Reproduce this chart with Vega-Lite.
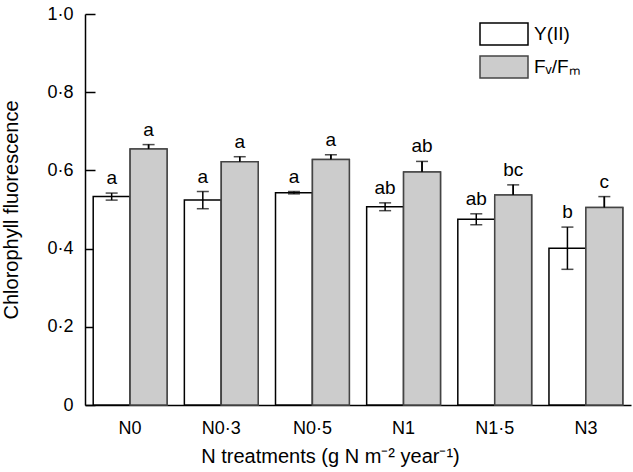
{
  "$schema": "https://vega.github.io/schema/vega-lite/v6.json",
  "width": 546,
  "height": 391,
  "autosize": {"type": "none"},
  "padding": {"left": 85, "top": 14, "right": 2, "bottom": 67},
  "background": "white",
  "config": {
    "view": {"stroke": null},
    "font": "Liberation Sans",
    "axis": {"labelFont": "Liberation Sans", "titleFont": "Liberation Sans", "labelColor": "black", "titleColor": "black", "domainColor": "black", "tickColor": "black", "grid": false, "titleFontWeight": "normal"}
  },
  "data": {
    "values": [
      {"treatment": "N0", "measure": "Y(II)", "mean": 0.533, "lo": 0.524, "hi": 0.542, "letter": "a"},
      {"treatment": "N0", "measure": "Fᵥ/Fₘ", "mean": 0.655, "lo": 0.644, "hi": 0.666, "letter": "a"},
      {"treatment": "N0·3", "measure": "Y(II)", "mean": 0.524, "lo": 0.502, "hi": 0.546, "letter": "a"},
      {"treatment": "N0·3", "measure": "Fᵥ/Fₘ", "mean": 0.622, "lo": 0.609, "hi": 0.635, "letter": "a"},
      {"treatment": "N0·5", "measure": "Y(II)", "mean": 0.543, "lo": 0.540, "hi": 0.546, "letter": "a"},
      {"treatment": "N0·5", "measure": "Fᵥ/Fₘ", "mean": 0.628, "lo": 0.616, "hi": 0.640, "letter": "a"},
      {"treatment": "N1", "measure": "Y(II)", "mean": 0.507, "lo": 0.497, "hi": 0.517, "letter": "ab"},
      {"treatment": "N1", "measure": "Fᵥ/Fₘ", "mean": 0.596, "lo": 0.569, "hi": 0.623, "letter": "ab"},
      {"treatment": "N1·5", "measure": "Y(II)", "mean": 0.475, "lo": 0.461, "hi": 0.489, "letter": "ab"},
      {"treatment": "N1·5", "measure": "Fᵥ/Fₘ", "mean": 0.537, "lo": 0.511, "hi": 0.563, "letter": "bc"},
      {"treatment": "N3", "measure": "Y(II)", "mean": 0.401, "lo": 0.347, "hi": 0.455, "letter": "b"},
      {"treatment": "N3", "measure": "Fᵥ/Fₘ", "mean": 0.505, "lo": 0.477, "hi": 0.533, "letter": "c"}
    ]
  },
  "encoding": {
    "x": {
      "field": "treatment", "type": "nominal", "sort": null,
      "scale": {"paddingInner": 0.19, "paddingOuter": 0.09},
      "axis": {"title": "N treatments (g N m⁻² year⁻¹)", "labelAngle": 0, "ticks": false, "labelFontSize": 18, "titleFontSize": 20, "labelPadding": 14, "titlePadding": 9, "titleX": 245, "titleAlign": "center", "domainWidth": 1.5}
    },
    "xOffset": {"field": "measure", "type": "nominal", "sort": ["Y(II)", "Fᵥ/Fₘ"], "scale": {"paddingInner": 0, "paddingOuter": 0}}
  },
  "layer": [
    {
      "mark": {"type": "bar", "strokeWidth": 1.5},
      "encoding": {
        "y": {
          "field": "mean", "type": "quantitative",
          "scale": {"domain": [0, 1], "nice": false},
          "axis": {"title": "Chlorophyll fluorescence", "values": [0, 0.2, 0.4, 0.6, 0.8, 1.0], "labelExpr": "datum.value == 0 ? '0' : replace(format(datum.value, '.1f'), '.', '·')", "tickSize": -10, "labelPadding": 22, "labelFontSize": 18, "titleFontSize": 20, "titlePadding": 25, "domainWidth": 1.5, "tickWidth": 1.5}
        },
        "fill": {
          "field": "measure", "type": "nominal",
          "scale": {"domain": ["Y(II)", "Fᵥ/Fₘ"], "range": ["white", "#cccccc"]},
          "legend": {"title": null, "orient": "none", "legendX": 406, "legendY": 7, "symbolType": "M-2,-0.92H2V0.92H-2Z", "symbolSize": 576, "symbolStrokeWidth": 1.5, "labelFontSize": 19, "labelColor": "black", "labelFont": "Liberation Sans", "rowPadding": 3, "labelOffset": 17}
        },
        "stroke": {
          "field": "measure", "type": "nominal",
          "scale": {"domain": ["Y(II)", "Fᵥ/Fₘ"], "range": ["black", "#444444"]},
          "legend": {"title": null, "orient": "none", "legendX": 406, "legendY": 7, "symbolType": "M-2,-0.92H2V0.92H-2Z", "symbolSize": 576, "symbolStrokeWidth": 1.5, "labelFontSize": 19, "labelColor": "black", "labelFont": "Liberation Sans", "rowPadding": 3, "labelOffset": 17}
        }
      }
    },
    {
      "mark": {"type": "rule", "color": "black", "strokeWidth": 1.5},
      "encoding": {
        "y": {"field": "lo", "type": "quantitative"},
        "y2": {"field": "hi"}
      }
    },
    {
      "mark": {"type": "tick", "color": "black", "size": 12, "thickness": 1.5, "orient": "horizontal"},
      "encoding": {"y": {"field": "hi", "type": "quantitative"}}
    },
    {
      "mark": {"type": "tick", "color": "black", "size": 12, "thickness": 1.5, "orient": "horizontal"},
      "transform": [{"filter": "datum.measure == 'Y(II)'"}],
      "encoding": {"y": {"field": "lo", "type": "quantitative"}}
    },
    {
      "mark": {"type": "bar", "strokeWidth": 1.5, "fill": "#cccccc", "stroke": "#444444"},
      "transform": [{"filter": "datum.measure != 'Y(II)'"}],
      "encoding": {"y": {"field": "mean", "type": "quantitative"}}
    },
    {
      "mark": {"type": "rule", "color": "black", "strokeWidth": 1.5},
      "transform": [{"filter": "datum.measure != 'Y(II)'"}],
      "encoding": {
        "y": {"field": "mean", "type": "quantitative"},
        "y2": {"field": "hi"}
      }
    },
    {
      "mark": {"type": "text", "baseline": "bottom", "dy": -5, "fontSize": 19, "color": "black", "font": "Liberation Sans"},
      "encoding": {
        "y": {"field": "hi", "type": "quantitative"},
        "text": {"field": "letter"}
      }
    }
  ]
}
